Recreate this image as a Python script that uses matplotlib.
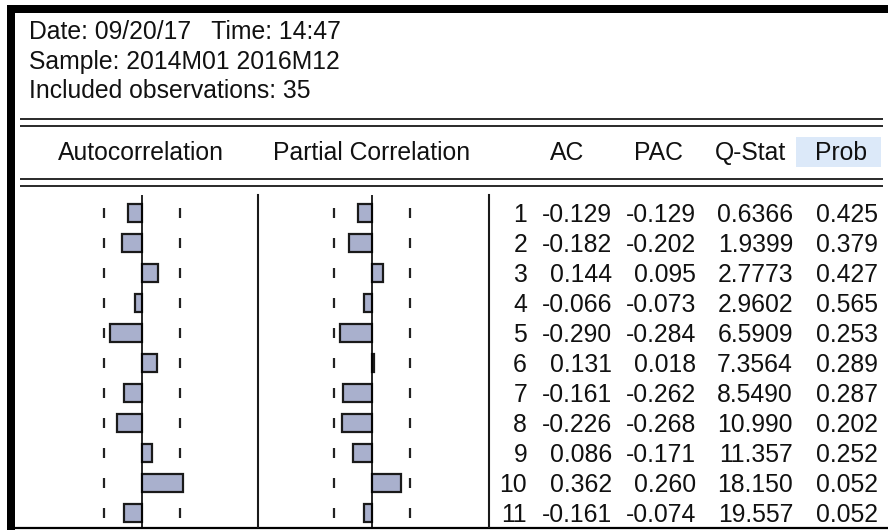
import matplotlib.pyplot as plt
from matplotlib.patches import Rectangle
import numpy as np

plt.rcParams['font.family'] = ['Liberation Sans', 'DejaVu Sans']

# correlogram output
header_lines = ['Date: 09/20/17   Time: 14:47',
                'Sample: 2014M01 2016M12',
                'Included observations: 35']
n_obs = 35
lags = [1, 2, 3, 4, 5, 6, 7, 8, 9, 10, 11]
ac = [-0.129, -0.182, 0.144, -0.066, -0.290, 0.131, -0.161, -0.226, 0.086, 0.362, -0.161]
pac = [-0.129, -0.202, 0.095, -0.073, -0.284, 0.018, -0.262, -0.268, -0.171, 0.260, -0.074]
qstat = [0.6366, 1.9399, 2.7773, 2.9602, 6.5909, 7.3564, 8.5490, 10.990, 11.357, 18.150, 19.557]
prob = [0.425, 0.379, 0.427, 0.565, 0.253, 0.289, 0.287, 0.202, 0.252, 0.052, 0.052]

W, H = 888, 530
FS = 17.8
INK = '#111111'
BAR_FILL = '#a9b0cd'
BAR_EDGE = '#1a1a1a'
PX_PER_UNIT = 112.0      # pixels per unit of correlation
ROW_TOP, ROW_BOTTOM = 195, 527
ROW1_Y, ROW_STEP = 213, 30

fig = plt.figure(figsize=(W / 100, H / 100), dpi=100)

# background layer in pixel coordinates
bg = fig.add_axes([0, 0, 1, 1])
bg.set_xlim(0, W)
bg.set_ylim(H, 0)
bg.axis('off')

# window frame
bg.add_patch(Rectangle((7, 5), W - 7, 8, color='black', lw=0))
bg.add_patch(Rectangle((7, 5), 8, H - 5, color='black', lw=0))
bg.plot([15, W], [527.5, 527.5], color='black', lw=1.6)

for i, line in enumerate(header_lines):
    bg.text(29, 39 + 29.5 * i, line, fontsize=FS, color=INK, va='baseline', ha='left')

# double rules around the column headings
for y in (119, 125.5, 179, 185.5):
    bg.plot([20, 883], [y, y], color='#2a2a2a', lw=1.4, solid_capstyle='butt')

bg.add_patch(Rectangle((796, 137), 85, 30, color='#dce9f9', lw=0))
col_heads = [('Autocorrelation', 141), ('Partial Correlation', 372),
             ('AC', 567), ('PAC', 658), ('Q-Stat', 750), ('Prob', 841)]
for label, x in col_heads:
    bg.text(x, 160, label, fontsize=FS, color=INK, ha='center', va='baseline')

# panel separators
for x in (258, 489):
    bg.plot([x, x], [ROW_TOP, ROW_BOTTOM], color='#1a1a1a', lw=1.5)

lag_top = 1 + (ROW_TOP - ROW1_Y) / ROW_STEP
lag_bottom = 1 + (ROW_BOTTOM - ROW1_Y) / ROW_STEP
bound = 2 / np.sqrt(n_obs)


def bar_panel(x0, x1, zero_px, values):
    ax = fig.add_axes([x0 / W, (H - ROW_BOTTOM) / H, (x1 - x0) / W,
                       (ROW_BOTTOM - ROW_TOP) / H])
    ax.set_xlim((x0 - zero_px) / PX_PER_UNIT, (x1 - zero_px) / PX_PER_UNIT)
    ax.set_ylim(lag_bottom, lag_top)
    ax.axis('off')
    ax.barh(lags, values, height=0.57, color=BAR_FILL, edgecolor=BAR_EDGE,
            linewidth=1.6, zorder=2)
    ax.axvline(0, color='black', lw=1.2, zorder=3)
    lag_arr = np.array(lags)
    for b in (-bound, bound):
        ax.vlines([b] * len(lags), lag_arr - 0.18, lag_arr + 0.18,
                  color='#222222', lw=1.6, zorder=1)
    return ax


bar_panel(20, 258, 142, ac)
bar_panel(258, 489, 372, pac)

# numeric table, rows placed by lag
tbl = fig.add_axes([0, (H - ROW_BOTTOM) / H, 1, (ROW_BOTTOM - ROW_TOP) / H])
tbl.set_xlim(0, W)
tbl.set_ylim(lag_bottom, lag_top)
tbl.axis('off')

base = 8.5 / ROW_STEP
for k, a, p, q, pr in zip(lags, ac, pac, qstat, prob):
    qtxt = f'{q:.4f}' if q < 10 else f'{q:.3f}'
    cells = [(str(k), 527), (f'{a:.3f}', 612), (f'{p:.3f}', 696),
             (qtxt, 793), (f'{pr:.3f}', 878)]
    for txt, x in cells:
        tbl.text(x, k + base, txt, fontsize=FS, color=INK, ha='right', va='baseline')

fig.savefig('out.png', dpi=100)
